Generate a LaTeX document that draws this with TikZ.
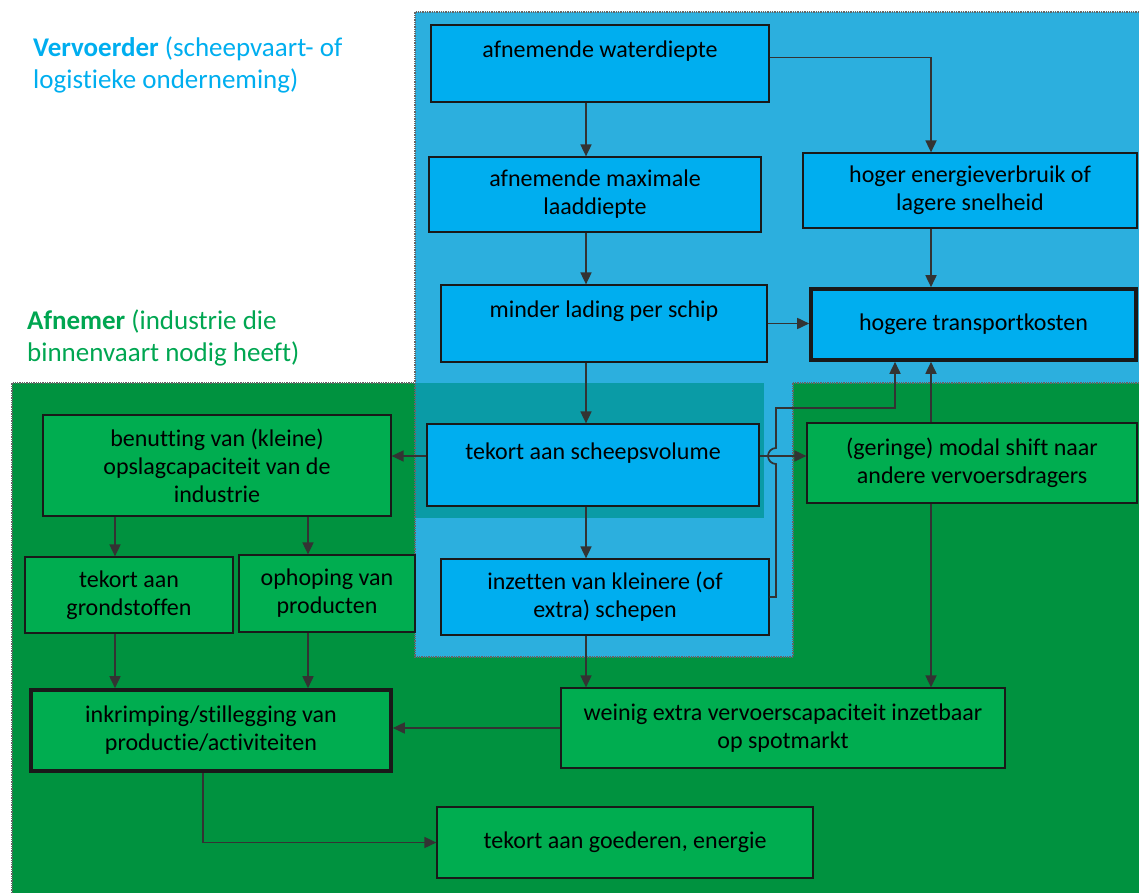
\documentclass[tikz,border=0pt]{standalone}
\usepackage{fontspec}
\setmainfont{Carlito}[Ligatures=NoCommon]
\usetikzlibrary{arrows.meta}

\definecolor{vlakblauw}{HTML}{2CAFDE}
\definecolor{vlakgroen}{HTML}{00923F}
\definecolor{vlakteal}{HTML}{0A9BA6}
\definecolor{blokblauw}{HTML}{00AEEF}
\definecolor{blokgroen}{HTML}{00AD50}
\definecolor{titelblauw}{HTML}{00AEEF}
\definecolor{titelgroen}{HTML}{00A651}
\definecolor{pijlgrijs}{HTML}{333333}

\begin{document}
\begin{tikzpicture}[x=1pt,y=-1pt,
    blok/.style={draw=black!90,line width=1.2pt,align=center,inner sep=2pt,
        font=\fontsize{24}{28}\selectfont},
    blauw/.style={fill=blokblauw},
    groen/.style={fill=blokgroen},
    dik/.style={line width=3.6pt},
    pijl/.style={-{Triangle[width=11pt,length=12pt]},line width=1.7pt,draw=pijlgrijs},
    rand/.style={densely dotted,line width=1.3pt,draw=black!60},
    titel/.style={anchor=north west,align=left,inner sep=0pt,
        font=\fontsize{27}{32}\selectfont}]

    \useasboundingbox (0,0) rectangle (1139,893);

    % vlakken
    \fill[vlakgroen] (12,383) rectangle (1139,893);
    \fill[vlakblauw] (415,12) -- (1139,12) -- (1139,383) -- (793,383) -- (793,657) -- (415,657) -- cycle;
    \fill[vlakteal] (415,383) rectangle (764,518);
    \draw[rand] (12,893) -- (12,383) -- (415,383);
    \draw[rand] (1139,383) -- (793,383);
    \draw[rand] (1139,12) -- (415,12) -- (415,657) -- (793,657) -- (793,383);

    \node[titel,text=titelblauw] (vervoerder) at (33,37) {\textbf{Vervoerder} (scheepvaart- of\\logistieke onderneming)};
    \node[titel,text=titelgroen] (afnemer) at (27,310) {\textbf{Afnemer} (industrie die\\binnenvaart nodig heeft)};

    \begin{scope}[every node/.style={blok,blauw}]
        \node[minimum width=338pt,minimum height=77pt] (wd) at (600,63.5) {afnemende waterdiepte\\\mbox{}};
        \node[minimum width=332pt,minimum height=75pt] (mld) at (595,194.5) {afnemende maximale\\laaddiepte};
        \node[minimum width=334pt,minimum height=75pt] (ev) at (970,190.5) {hoger energieverbruik of\\lagere snelheid};
        \node[minimum width=326pt,minimum height=77pt] (ml) at (604,323.5) {minder lading per schip\\\mbox{}};
        \node[dik,minimum width=325pt,minimum height=71pt] (tk) at (973.5,324.5) {hogere transportkosten};
        \node[minimum width=332pt,minimum height=82pt] (sv) at (593,465) {tekort aan scheepsvolume\\\mbox{}};
        \node[minimum width=328pt,minimum height=76pt] (iz) at (605,597) {inzetten van kleinere (of\\extra) schepen};
    \end{scope}

    \begin{scope}[every node/.style={blok,groen}]
        \node[minimum width=330pt,minimum height=80pt] (ms) at (972,463) {(geringe) modal shift naar\\andere vervoersdragers};
        \node[minimum width=348pt,minimum height=101pt] (bo) at (217,465.5) {benutting van (kleine)\\opslagcapaciteit van de\\industrie};
        \node[minimum width=208pt,minimum height=76pt] (gs) at (129,595) {tekort aan\\grondstoffen};
        \node[minimum width=176pt,minimum height=77pt] (op) at (327,593.5) {ophoping van\\producten};
        \node[dik,minimum width=360pt,minimum height=81pt] (ik) at (211,730.5) {inkrimping/stillegging van\\productie/activiteiten};
        \node[minimum width=444pt,minimum height=80pt] (wc) at (783,728) {weinig extra vervoerscapaciteit inzetbaar\\op spotmarkt};
        \node[minimum width=376pt,minimum height=71pt] (tg) at (625,842.5) {tekort aan goederen, energie};
    \end{scope}

    \coordinate (as) at (586,0);
    \coordinate (links1) at (115,0);
    \coordinate (links2) at (308,0);
    \coordinate (rechts) at (931,0);
    \coordinate (knik) at (895,408);
    \coordinate (sprong) at (776,456);

    \begin{scope}[every path/.style={pijl}]
        \draw (wd.south -| as) -- (mld.north -| as);
        \draw (mld.south -| as) -- (ml.north -| as);
        \draw (ml.south -| as) -- (sv.north -| as);
        \draw (sv.south -| as) -- (iz.north -| as);
        \draw (iz.south -| as) -- (wc.north -| as);
        \draw ([yshift=6pt]wd.east) -| (ev.north -| rechts);
        \draw (ev.south -| rechts) -- (tk.north -| rechts);
        \draw (ml.east) -- (ml.east -| tk.west);
        \draw (sv.east |- sprong) -- (ms.west |- sprong);
        \draw (sv.west |- sprong) -- (bo.east |- sprong);
        \draw (iz.east) -- (iz.east -| sprong) -- ([yshift=-8pt]sprong)
            arc[start angle=90,end angle=270,radius=8] -- (sprong |- knik) -- (knik) -- (knik |- tk.south);
        \draw (ms.north -| rechts) -- (tk.south -| rechts);
        \draw (ms.south -| rechts) -- (wc.north -| rechts);
        \draw (bo.south -| links1) -- (gs.north -| links1);
        \draw (bo.south -| links2) -- (op.north -| links2);
        \draw (gs.south -| links1) -- (ik.north -| links1);
        \draw (op.south -| links2) -- (ik.north -| links2);
        \draw (wc.west) -- (wc.west -| ik.east);
        \draw ([xshift=-8pt]ik.south) |- (tg.west);
    \end{scope}
\end{tikzpicture}
\end{document}
